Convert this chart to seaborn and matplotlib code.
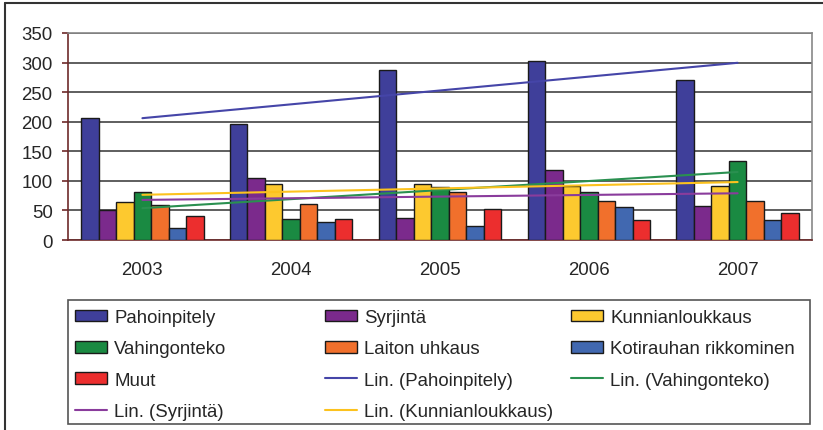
import numpy as np
import pandas as pd
import matplotlib.pyplot as plt
import seaborn as sns
from matplotlib.patches import Patch
from matplotlib.lines import Line2D

# values
years = ['2003', '2004', '2005', '2006', '2007']
pahoinpitely = [207, 196, 288, 302, 271]
syrjinta = [50, 104, 38, 118, 57]
kunnianloukkaus = [64, 94, 94, 92, 92]
vahingonteko = [81, 35, 90, 82, 134]
laiton_uhkaus = [59, 61, 82, 66, 66]
kotirauha = [21, 31, 23, 55, 33]
muut = [40, 35, 52, 33, 45]

names = ['Pahoinpitely', 'Syrjintä', 'Kunnianloukkaus', 'Vahingonteko',
         'Laiton uhkaus', 'Kotirauhan rikkominen', 'Muut']
series = [pahoinpitely, syrjinta, kunnianloukkaus, vahingonteko,
          laiton_uhkaus, kotirauha, muut]
colors = ['#3f3f9a', '#7b2a8c', '#fdc92f', '#1a8a42', '#f1702c', '#4168b0', '#ec2e2e']
trend_names = ['Pahoinpitely', 'Vahingonteko', 'Syrjintä', 'Kunnianloukkaus']
trend_colors = {'Pahoinpitely': '#4545a8', 'Vahingonteko': '#2a9050',
                'Syrjintä': '#8a3c9c', 'Kunnianloukkaus': '#fcc21e'}

dat = pd.DataFrame({'year': np.repeat(years, len(names)),
                    'type': names * len(years),
                    'n': [s[i] for i in range(len(years)) for s in series]})

sns.set_style('white')
plt.rcParams['font.family'] = ['Liberation Sans', 'DejaVu Sans']

W, H = 823, 431
fig = plt.figure(figsize=(W / 100, H / 100), dpi=100)
ax = fig.add_axes([68 / W, 1 - 241 / H, (812 - 68) / W, (241 - 34) / H])

sns.barplot(data=dat, x='year', y='n', hue='type', hue_order=names, order=years,
            palette=colors, saturation=1, width=7 / 8.5, gap=0, edgecolor='#1a1a1a',
            linewidth=1, errorbar=None, legend=False, ax=ax, zorder=3)

# linear trend lines
xs = np.arange(len(years))
for nm in trend_names:
    vals = series[names.index(nm)]
    sns.regplot(x=xs, y=vals, scatter=False, ci=None, truncate=True, ax=ax,
                line_kws=dict(color=trend_colors[nm], lw=1.5, zorder=4))

ax.set(xlim=(-0.5, 4.5), ylim=(0, 350), xlabel='', ylabel='',
       yticks=range(0, 351, 50))
ax.set_xticks(xs)
ax.set_xticklabels(years)
ax.set_xticks(np.arange(-0.5, 5, 1), minor=True)
ax.yaxis.grid(True, color='#333333', lw=1.1, zorder=0)
ax.set_axisbelow(True)
for s in ['left', 'bottom']:
    ax.spines[s].set_color('#6e2a2a')
    ax.spines[s].set_linewidth(1.2)
for s in ['top', 'right']:
    ax.spines[s].set_color('#888888')
    ax.spines[s].set_linewidth(1.2)
ax.tick_params(axis='x', which='major', length=0, pad=15, labelsize=13.4)
ax.tick_params(axis='x', which='minor', length=4, width=1.2, color='#6e2a2a', direction='out')
ax.tick_params(axis='y', length=4, width=1.2, color='#6e2a2a', pad=7, labelsize=13.4, left=True)

# legend: three columns, filled row by row like the original
bar_h = [Patch(facecolor=c, edgecolor='#1a1a1a', lw=1) for c in colors]
line_h = [Line2D([], [], color=trend_colors[nm], lw=1.5) for nm in trend_names]
handles = bar_h + line_h
labels = names + ['Lin. (%s)' % nm for nm in trend_names]
col_x = [75, 325, 571]
for c in range(3):
    hs = handles[c::3]
    ls = labels[c::3]
    fig.legend(hs, ls, loc='upper left', bbox_to_anchor=(col_x[c] / W, 1 - 310 / H),
               frameon=False, borderpad=0, borderaxespad=0, fontsize=13.4,
               handlelength=1.72, handleheight=0.58, handletextpad=0.38,
               labelspacing=0.77)

fig.add_artist(plt.Rectangle((68 / W, 1 - 425 / H), (810 - 68) / W, 124 / H,
                             transform=fig.transFigure, fill=False,
                             edgecolor='#555555', lw=1.2))
# outer chart frame (top and left edges visible)
fig.add_artist(Line2D([4.5 / W, 1], [1 - 4 / H, 1 - 4 / H], transform=fig.transFigure,
                      color='#333333', lw=1.5))
fig.add_artist(Line2D([4.5 / W, 4.5 / W], [0, 1 - 4 / H], transform=fig.transFigure,
                      color='#333333', lw=1.5))

fig.savefig('out.png', dpi=100)
plt.close()
